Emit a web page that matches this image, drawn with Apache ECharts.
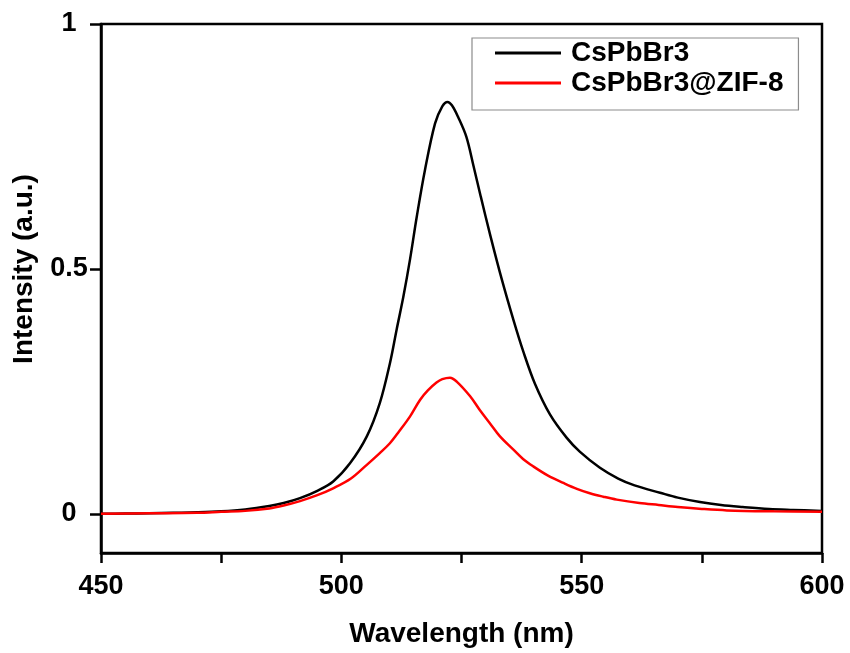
<!DOCTYPE html>
<html>
<head>
<meta charset="utf-8">
<script src="https://cdn.jsdelivr.net/npm/echarts@6/dist/echarts.min.js"></script>
<style>html,body{margin:0;padding:0;background:#fff;}#c{width:850px;height:653px;}</style>
</head>
<body>
<div id="c"></div>
<script>
const seriesNames = ['CsPbBr3', 'CsPbBr3@ZIF-8'];
const xTickLabels = ['450', '500', '550', '600'];
const yTickValues = [0, 0.5, 1];

const wlBlack = [450,455,460,465,470,475,480,485,488,491.4,495,498.3,501.8,505.3,508,510.1,511.5,512.9,514.3,515.7,517.4,519.5,521,522.1,523,524.3,526,527.5,529,531,533.4,535.8,537.9,540.3,543.4,546.9,549.6,553.8,557.6,561,566.3,570,574.6,579,583.5,589,594,600];
const intBlack = [0,0.0005,0.001,0.002,0.003,0.005,0.009,0.016,0.022,0.032,0.047,0.066,0.103,0.158,0.226,0.307,0.376,0.443,0.52,0.607,0.702,0.797,0.832,0.841,0.834,0.81,0.77,0.71,0.648,0.568,0.478,0.396,0.33,0.265,0.203,0.155,0.127,0.094,0.072,0.058,0.043,0.033,0.024,0.018,0.014,0.01,0.008,0.006];

const wlRed = [450,460,470,475,480,485,488,491.4,495,498.3,502,505.3,508,510.1,512,514.3,516.4,518,519.8,521,522.6,524,526.8,528.8,530.9,533,535.8,537.8,539.9,543,546.2,549,551.7,554.5,557.3,562,566,570,575,580.2,590,600];
const intRed = [0,0.001,0.002,0.004,0.006,0.011,0.017,0.026,0.038,0.052,0.072,0.1,0.124,0.144,0.168,0.199,0.233,0.252,0.268,0.275,0.278,0.27,0.24,0.212,0.185,0.158,0.131,0.112,0.097,0.078,0.063,0.051,0.042,0.035,0.029,0.022,0.018,0.014,0.01,0.007,0.005,0.004];

const FONT = "'Liberation Sans', Arial, sans-serif";
const chart = echarts.init(document.getElementById('c'));
const pairs = (xs, ys) => xs.map((x, i) => [x, ys[i]]);

chart.setOption({
  animation: false,
  backgroundColor: '#fff',
  grid: {left: 101, right: 28, top: 24, bottom: 100, show: true, borderColor: '#000', borderWidth: 2.5, backgroundColor: 'transparent'},
  legend: {
    orient: 'vertical', left: 472, top: 38,
    backgroundColor: '#fff',
    borderColor: '#8c8c8c', borderWidth: 1.2, borderRadius: 0,
    padding: [1, 15, 13, 23], itemGap: 2,
    itemWidth: 66, itemHeight: 3,
    icon: 'rect',
    textStyle: {fontFamily: FONT, fontWeight: 'bold', fontSize: 28, color: '#000', lineHeight: 26, padding: [0, 0, 0, 5]},
    data: seriesNames.map(n => ({name: n, icon: 'rect'}))
  },
  xAxis: {
    type: 'value', min: 450, max: 600, interval: 25,
    axisLine: {show: true, onZero: false, lineStyle: {color: '#000', width: 2.5}},
    axisTick: {show: true, inside: false, length: 10, lineStyle: {color: '#000', width: 2.5}},
    axisLabel: {
      margin: 20, fontFamily: FONT, fontWeight: 'bold', fontSize: 27, color: '#000',
      formatter: v => xTickLabels.includes(String(v)) ? String(v) : ''
    },
    splitLine: {show: false},
    name: 'Wavelength (nm)', nameLocation: 'middle', nameGap: 67,
    nameTextStyle: {fontFamily: FONT, fontWeight: 'bold', fontSize: 28, color: '#000'}
  },
  yAxis: {
    type: 'value', min: -0.08, max: 1,
    axisLine: {show: true, lineStyle: {color: '#000', width: 2.5}},
    axisTick: {show: true, inside: false, length: 11, customValues: yTickValues, lineStyle: {color: '#000', width: 2.5}},
    axisLabel: {margin: 32, align: 'center', customValues: yTickValues, fontFamily: FONT, fontWeight: 'bold', fontSize: 27, color: '#000', formatter: v => String(v)},
    splitLine: {show: false}
  },
  graphic: [{
    type: 'text', x: 24, y: 269, rotation: Math.PI / 2,
    style: {text: 'Intensity (a.u.)', font: "bold 28px 'Liberation Sans', Arial, sans-serif", fill: '#000', textAlign: 'center', textVerticalAlign: 'middle'}
  }],
  series: [
    {name: seriesNames[0], type: 'line', data: pairs(wlBlack, intBlack), showSymbol: false, symbol: 'none', smooth: 0.35, lineStyle: {color: '#000', width: 2.5}, itemStyle: {color: '#000'}, z: 3},
    {name: seriesNames[1], type: 'line', data: pairs(wlRed, intRed), showSymbol: false, symbol: 'none', smooth: 0.35, lineStyle: {color: '#ff0000', width: 2.5}, itemStyle: {color: '#ff0000'}, z: 4}
  ]
});
</script>
</body>
</html>
